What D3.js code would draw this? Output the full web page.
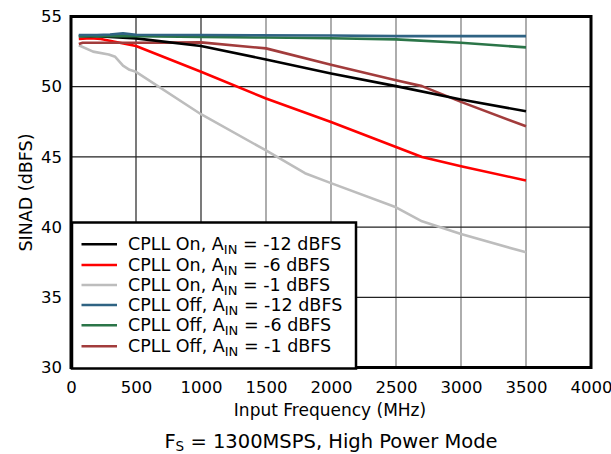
<!DOCTYPE html>
<html><head><meta charset="utf-8">
<script src="https://cdn.jsdelivr.net/npm/d3@7"></script>
<style>body{margin:0;background:#fff}svg{display:block;font-family:"DejaVu Sans",sans-serif}</style>
</head><body><svg id="c" width="611" height="454"></svg>
<script>
const xTicks=[0,500,1000,1500,2000,2500,3000,3500,4000];
const yTicks=[30,35,40,45,50,55];
const seriesNames=["CPLL On, A|IN| = -12 dBFS","CPLL On, A|IN| = -6 dBFS","CPLL On, A|IN| = -1 dBFS","CPLL Off, A|IN| = -12 dBFS","CPLL Off, A|IN| = -6 dBFS","CPLL Off, A|IN| = -1 dBFS"];
const seriesColors=["#000000","#ff0000","#bdbdbd","#2f6383","#2b7548","#a23c3c"];
const onM12F=[60,200,500,1000,1500,2000,2500,3000,3500];
const onM12V=[53.6,53.6,53.44,52.9,51.94,50.94,50.04,49.09,48.25];
const onM6F=[60,150,230,500,1000,1500,2000,2500,2700,3000,3500];
const onM6V=[53.4,53.45,53.4,52.9,51.06,49.16,47.49,45.7,44.99,44.34,43.32];
const onM1F=[60,170,290,340,400,450,500,1000,1500,1800,2000,2500,2700,3000,3500];
const onM1V=[52.95,52.5,52.3,52.13,51.5,51.2,51.06,48.04,45.46,43.84,43.13,41.41,40.41,39.51,38.2];
const offM12F=[60,200,300,400,500,1000,2000,2500,3000,3500];
const offM12V=[53.68,53.68,53.72,53.8,53.7,53.68,53.65,53.6,53.6,53.6];
const offM6F=[60,200,500,1000,1500,2000,2500,3000,3500];
const offM6V=[53.6,53.62,53.6,53.55,53.5,53.45,53.37,53.13,52.8];
const offM1F=[60,90,500,1000,1500,2000,2500,2700,3000,3500];
const offM1V=[53.04,53.13,53.13,53.16,52.73,51.56,50.46,50.04,48.92,47.18];
const allF=[onM12F,onM6F,onM1F,offM12F,offM6F,offM1F];
const allV=[onM12V,onM6V,onM1V,offM12V,offM6V,offM1V];

const svg=d3.select("#c");
const L=71,R=591,T=16.5,B=367.5;
const x=d3.scaleLinear().domain([0,4000]).range([L,R]);
const y=d3.scaleLinear().domain([30,55]).range([B,T]);

// grid
svg.append("g").selectAll("line").data(xTicks.slice(1,-1)).join("line")
 .attr("x1",d=>x(d)).attr("x2",d=>x(d)).attr("y1",T).attr("y2",B)
 .attr("stroke",d=>d<=1000?"#222":"#777").attr("stroke-width",1.2);
svg.append("g").selectAll("line").data(yTicks.slice(1,-1)).join("line")
 .attr("x1",L).attr("x2",R).attr("y1",d=>y(d)).attr("y2",d=>y(d))
 .attr("stroke","#222").attr("stroke-width",1.2);

// axes labels via d3 axes
const xa=svg.append("g").attr("transform",`translate(0,${B})`)
 .call(d3.axisBottom(x).tickValues(xTicks).tickSize(0).tickPadding(14).tickFormat(d3.format("d")));
const ya=svg.append("g").attr("transform",`translate(${L},0)`)
 .call(d3.axisLeft(y).tickValues(yTicks).tickSize(0).tickPadding(9).tickFormat(d3.format("d")));
[xa,ya].forEach(a=>{a.select(".domain").remove();a.selectAll("text").attr("font-size",16.5).attr("fill","#000").attr("font-family","DejaVu Sans, sans-serif");});

// series
const line=d3.line().x(d=>x(d[0])).y(d=>y(d[1]));
const order=[2,1,5,0,4,3];
order.forEach(i=>{
  const pts=allF[i].map((f,k)=>[f,allV[i][k]]);
  svg.append("path").attr("d",line(pts)).attr("fill","none")
   .attr("stroke",seriesColors[i]).attr("stroke-width",2.6).attr("stroke-linejoin","round");
});

// frame
svg.append("rect").attr("x",L).attr("y",T).attr("width",R-L).attr("height",B-T)
 .attr("fill","none").attr("stroke","#000").attr("stroke-width",3);

// legend
const lg=svg.append("g");
lg.append("rect").attr("x",72).attr("y",222.5).attr("width",284).attr("height",146)
 .attr("fill","#fff").attr("stroke","#000").attr("stroke-width",2.5);
const rowY=[244.3,265,285,305,325.3,346.3];
seriesNames.forEach((n,i)=>{
  lg.append("line").attr("x1",81.5).attr("x2",117).attr("y1",rowY[i]).attr("y2",rowY[i])
   .attr("stroke",seriesColors[i]).attr("stroke-width",2.6);
  const parts=n.split("|");
  const t=lg.append("text").attr("x",128).attr("y",rowY[i]+6).attr("font-size",17.5).attr("fill","#000");
  t.append("tspan").text(parts[0]);
  t.append("tspan").attr("dy",4).attr("font-size",13).text(parts[1]);
  t.append("tspan").attr("dy",-4).text(parts[2]);
});

// axis titles
svg.append("text").attr("transform","translate(32,192.5) rotate(-90)").attr("text-anchor","middle")
 .attr("font-size",17.5).text("SINAD (dBFS)");
svg.append("text").attr("x",330).attr("y",416).attr("text-anchor","middle").attr("font-size",17).text("Input Frequency (MHz)");
const st=svg.append("text").attr("x",331).attr("y",448).attr("text-anchor","middle").attr("font-size",19.5);
st.append("tspan").text("F");
st.append("tspan").attr("dy",3).attr("font-size",13.5).text("S");
st.append("tspan").attr("dy",-3).text(" = 1300MSPS, High Power Mode");
</script></body></html>
